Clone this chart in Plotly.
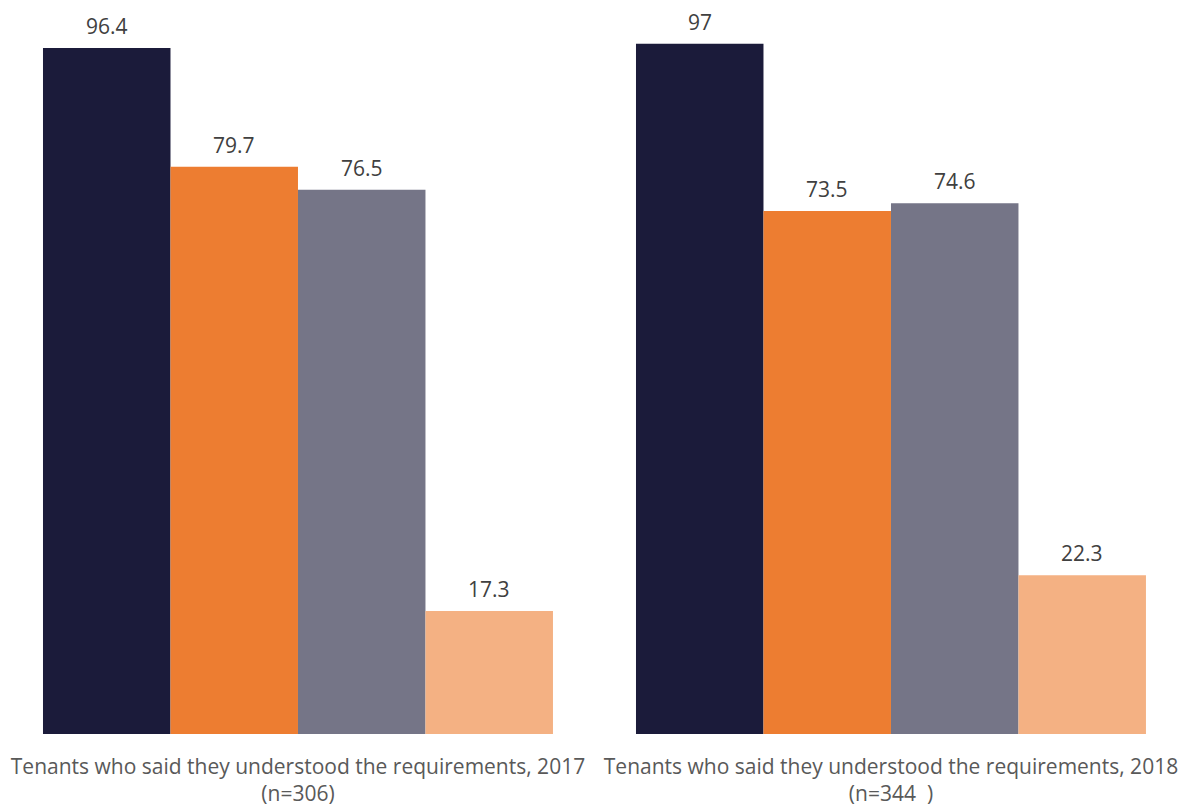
import plotly.graph_objects as go

# Survey groups shown along the x axis
groups = [
    "Tenants who said they understood the requirements, 2017<br>(n=306)",
    "Tenants who said they understood the requirements, 2018<br>(n=344  )",
]

# Percentages for the four measures in each group
series_a = [96.4, 97]
series_b = [79.7, 73.5]
series_c = [76.5, 74.6]
series_d = [17.3, 22.3]

series = [series_a, series_b, series_c, series_d]
colors = ["#1b1b3a", "#ed7d31", "#757587", "#f4b183"]

bar_w = 0.215
offsets = [-1.5 * bar_w, -0.5 * bar_w, 0.5 * bar_w, 1.5 * bar_w]

fig = go.Figure()
annotations = []
for vals, col, off in zip(series, colors, offsets):
    xs = [i + off for i in range(len(groups))]
    fig.add_trace(go.Bar(
        x=xs, y=vals, width=bar_w, marker=dict(color=col, line=dict(width=0)),
        hoverinfo="y", showlegend=False,
    ))
    for x, v in zip(xs, vals):
        annotations.append(dict(
            x=x, y=v, xref="x", yref="y", text=f"{v:g}", showarrow=False,
            yanchor="bottom", yshift=6,
            font=dict(family="Open Sans", size=21, color="#404040"),
        ))

fig.update_layout(
    width=1187, height=807,
    margin=dict(l=0, r=0, t=0, b=73),
    paper_bgcolor="white", plot_bgcolor="white",
    annotations=annotations,
    xaxis=dict(
        range=[-0.5025, 1.4992], tickmode="array", tickvals=[0, 1], ticktext=groups,
        showgrid=False, zeroline=False, showline=False, ticks="",
        ticklabelstandoff=18,
        tickfont=dict(family="Open Sans", size=21, color="#595959"),
    ),
    yaxis=dict(range=[0, 103.15], visible=False, showgrid=False, zeroline=False),
)

fig.write_html("out.html")
